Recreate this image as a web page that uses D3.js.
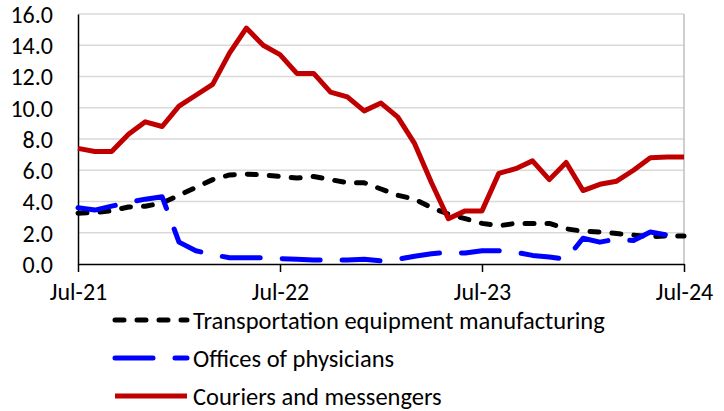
<!DOCTYPE html>
<html>
<head>
<meta charset="utf-8">
<script src="https://cdn.jsdelivr.net/npm/d3@7"></script>
<style>
  html, body { margin: 0; padding: 0; background: #fff; }
  svg { display: block; }
  text { font-family: Carlito, Calibri, Lato, "Open Sans", sans-serif; fill: #000; }
</style>
</head>
<body>
<svg id="chart" width="724" height="411"></svg>
<script>
const months = [
  "2021-07","2021-08","2021-09","2021-10","2021-11","2021-12",
  "2022-01","2022-02","2022-03","2022-04","2022-05","2022-06",
  "2022-07","2022-08","2022-09","2022-10","2022-11","2022-12",
  "2023-01","2023-02","2023-03","2023-04","2023-05","2023-06",
  "2023-07","2023-08","2023-09","2023-10","2023-11","2023-12",
  "2024-01","2024-02","2024-03","2024-04","2024-05","2024-06",
  "2024-07"
];
const transportation = [
  3.25, 3.3, 3.4, 3.65, 3.7, 3.9, 4.4, 4.9, 5.4, 5.7, 5.75, 5.7,
  5.6, 5.5, 5.6, 5.4, 5.2, 5.2, 4.8, 4.4, 4.15, 3.6, 3.2, 2.9,
  2.6, 2.45, 2.6, 2.6, 2.6, 2.25, 2.1, 2.05, 1.95, 1.85, 1.75, 1.8,
  1.8
];
const physicians = [
  3.6, 3.45, 3.7, 3.95, 4.15, 4.3, 1.4, 0.85, 0.6, 0.4, 0.4, 0.4,
  0.35, 0.3, 0.25, 0.25, 0.25, 0.3, 0.2, 0.3, 0.5, 0.65, 0.75, 0.7,
  0.85, 0.85, 0.75, 0.55, 0.45, 0.3, 1.65, 1.4, 1.6, 1.5, 2.05, 1.85,
  1.7
];
const couriers = [
  7.4, 7.2, 7.2, 8.3, 9.1, 8.8, 10.1, 10.8, 11.5, 13.5, 15.1, 14.0,
  13.4, 12.2, 12.2, 11.0, 10.7, 9.8, 10.3, 9.4, 7.7, 5.2, 2.9, 3.4,
  3.4, 5.8, 6.1, 6.6, 5.4, 6.5, 4.7, 5.1, 5.3, 6.0, 6.8, 6.85,
  6.85
];
const xTickMonths = ["2021-07","2022-07","2023-07","2024-07"];
const xTickLabels = ["Jul-21","Jul-22","Jul-23","Jul-24"];
const yTicks = [0, 2, 4, 6, 8, 10, 12, 14, 16];
const seriesNames = ["Transportation equipment manufacturing", "Offices of physicians", "Couriers and messengers"];

const series = [
  { name: seriesNames[0], values: transportation, color: "#000000", dash: "9 13" },
  { name: seriesNames[1], values: physicians, color: "#0000FF", dash: "38 22" },
  { name: seriesNames[2], values: couriers, color: "#C00000", dash: null }
];

const svg = d3.select("#chart");
const pLeft = 78, pRight = 684, pTop = 14, pBottom = 264;
const x = d3.scalePoint().domain(months).range([pLeft, pRight]);
const y = d3.scaleLinear().domain([0, 16]).range([pBottom, pTop]);
const fontSize = 24;

// gridlines
svg.append("g").selectAll("line").data(yTicks.filter(d => d > 0)).join("line")
  .attr("x1", pLeft).attr("x2", pRight)
  .attr("y1", d => y(d)).attr("y2", d => y(d))
  .attr("stroke", "#d9d9d9").attr("stroke-width", 1.5);
// right border
svg.append("line").attr("x1", pRight).attr("x2", pRight).attr("y1", pTop).attr("y2", pBottom)
  .attr("stroke", "#bfbfbf").attr("stroke-width", 1.5);

// y axis
const yAxis = svg.append("g").attr("transform", `translate(${pLeft},0)`)
  .call(d3.axisLeft(y).tickValues(yTicks).tickFormat(d3.format(".1f")).tickSize(0).tickPadding(25));
yAxis.select(".domain").attr("stroke", "#000").attr("stroke-width", 1.5);
yAxis.selectAll("text").style("font-size", fontSize + "px").attr("dy", "0.35em");

// x axis
const labelMap = new Map(xTickMonths.map((m, i) => [m, xTickLabels[i]]));
const xAxis = svg.append("g").attr("transform", `translate(0,${pBottom})`)
  .call(d3.axisBottom(x).tickValues(xTickMonths).tickFormat(d => labelMap.get(d)).tickSize(8).tickPadding(11).tickSizeOuter(0));
xAxis.select(".domain").attr("stroke", "#000").attr("stroke-width", 1.5);
xAxis.selectAll(".tick line").attr("stroke", "#000").attr("stroke-width", 1.5);
xAxis.selectAll("text").style("font-size", fontSize + "px");

// lines
const line = d3.line().x((d, i) => x(months[i])).y(d => y(d));
svg.append("g").selectAll("path").data(series).join("path")
  .attr("d", d => line(d.values))
  .attr("fill", "none")
  .attr("stroke", d => d.color)
  .attr("stroke-width", 5)
  .attr("stroke-linejoin", "round")
  .attr("stroke-linecap", d => d.dash ? "round" : "butt")
  .attr("stroke-dasharray", d => d.dash);

// legend
const legendY = [320, 358, 396];
const lg = svg.append("g").selectAll("g").data(series).join("g")
  .attr("transform", (d, i) => `translate(0,${legendY[i]})`);
lg.append("line").attr("x1", 115).attr("x2", 187).attr("y1", 0).attr("y2", 0)
  .attr("stroke", d => d.color).attr("stroke-width", 5)
  .attr("stroke-linecap", d => d.dash ? "round" : "butt")
  .attr("stroke-dasharray", d => d.dash);
lg.append("text").attr("x", 193).attr("y", 0).attr("dy", "0.35em")
  .style("font-size", "24.5px").text(d => d.name);
</script>
</body>
</html>
